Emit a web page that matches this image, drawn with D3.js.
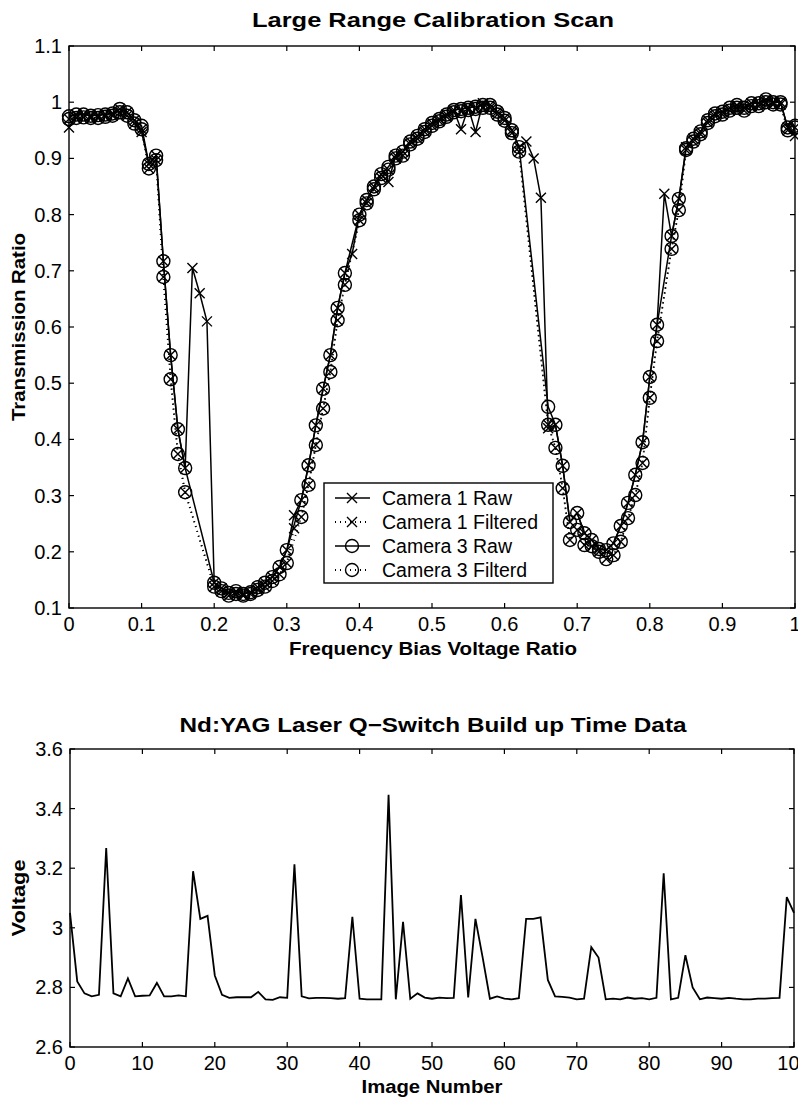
<!DOCTYPE html>
<html>
<head>
<meta charset="utf-8">
<script src="https://cdn.jsdelivr.net/npm/d3@7"></script>
<style>
  body { margin: 0; background: #fff; }
  svg text { font-family: "Liberation Sans", Arial, Helvetica, sans-serif; fill: #000; }
</style>
</head>
<body>
<div id="chart"></div>
<script>
// frequency bias voltage ratio, 0 .. 1 in 0.01 steps
var biasRatio = d3.range(101).map(function(i) { return i / 100; });

// transmission ratios (null = no sample shown for that camera/series)
var cam1Raw = [0.955,0.978,0.978,0.976,0.977,0.978,0.98,0.988,0.982,0.968,0.947,
  0.89,0.905,0.717,0.55,0.418,0.349,0.705,0.66,0.61,0.145,
  0.135,0.127,0.13,0.125,0.128,0.137,0.145,0.155,0.173,0.203,
  0.265,0.292,0.354,0.425,0.49,0.55,0.634,0.696,0.73,0.80,
  0.826,0.85,0.872,0.858,0.905,0.912,0.93,0.94,0.952,0.963,
  0.97,0.978,0.986,0.952,0.99,0.947,0.998,0.995,0.983,0.972,
  0.95,0.92,0.93,0.90,0.83,0.42,0.426,0.353,0.253,0.269,
  0.233,0.221,0.205,0.203,0.215,0.246,0.287,0.337,0.395,0.511,
  0.604,0.837,0.762,0.828,0.92,0.935,0.948,0.968,0.98,0.983,
  0.99,0.995,0.99,0.998,0.998,1.005,1.0,1.0,0.955,0.94];

var cam1Filt = [0.97,0.972,0.973,0.972,0.972,0.974,0.976,0.982,0.976,0.962,0.952,
  0.882,0.897,0.689,0.507,0.374,0.306,null,null,null,0.138,
  0.13,0.122,0.125,0.122,0.125,0.132,0.138,0.148,0.16,0.18,
  0.242,0.262,0.319,0.39,0.455,0.52,0.612,0.675,null,0.79,
  0.82,0.845,0.865,0.88,0.9,0.905,0.925,0.935,0.947,0.958,
  0.966,0.974,0.982,0.984,0.986,0.988,0.99,0.99,0.978,0.967,
  0.945,0.912,null,null,null,0.426,0.385,0.313,0.221,0.239,
  0.212,0.21,0.2,0.187,0.194,0.218,0.26,0.301,0.358,0.474,
  0.575,null,0.739,0.808,0.915,0.93,0.943,0.963,0.975,0.978,
  0.985,0.99,0.985,0.993,0.993,1.0,0.996,0.996,0.95,0.955];

var cam3Raw = [0.975,0.978,0.978,0.976,0.977,0.978,0.98,0.988,0.982,0.968,0.958,
  0.89,0.905,0.717,0.55,0.418,0.349,null,null,null,0.145,
  0.135,0.127,0.13,0.125,0.128,0.137,0.145,0.155,0.173,0.203,
  null,0.292,0.354,0.425,0.49,0.55,0.634,0.696,null,0.80,
  0.826,0.85,0.872,0.885,0.905,0.912,0.93,0.94,0.952,0.963,
  0.97,0.978,0.986,0.988,0.99,0.992,0.995,0.995,0.983,0.972,
  0.95,0.92,null,null,null,0.458,0.426,0.353,0.253,0.269,
  0.233,0.221,0.205,0.203,0.215,0.246,0.287,0.337,0.395,0.511,
  0.604,null,0.762,0.828,0.918,0.935,0.948,0.968,0.98,0.983,
  0.99,0.995,0.99,0.998,0.998,1.005,1.0,1.0,0.955,0.958];

var cam3Filt = [0.97,0.972,0.973,0.972,0.972,0.974,0.976,0.982,0.976,0.962,0.952,
  0.882,0.897,0.689,0.507,0.374,0.306,null,null,null,0.138,
  0.13,0.122,0.125,0.122,0.125,0.132,0.138,0.148,0.16,0.18,
  null,0.262,0.319,0.39,0.455,0.52,0.612,0.675,null,0.79,
  0.82,0.845,0.865,0.88,0.9,0.905,0.925,0.935,0.947,0.958,
  0.966,0.974,0.982,0.984,0.986,0.988,0.99,0.99,0.978,0.967,
  0.945,0.912,null,null,null,0.426,0.385,0.313,0.221,0.239,
  0.212,0.21,0.2,0.187,0.194,0.218,0.26,0.301,0.358,0.474,
  0.575,null,0.739,0.808,0.915,0.93,0.943,0.963,0.975,0.978,
  0.985,0.99,0.985,0.993,0.993,1.0,0.996,0.996,0.95,0.955];

// Q-switch build up time, image 0 .. 100
var imageNumber = d3.range(101);
var voltage = [3.05,2.82,2.78,2.77,2.775,3.268,2.78,2.77,2.83,2.77,
  2.772,2.773,2.815,2.77,2.77,2.773,2.77,3.19,3.03,3.04,
  2.84,2.775,2.765,2.767,2.767,2.767,2.785,2.76,2.758,2.767,
  2.765,3.213,2.77,2.763,2.765,2.765,2.764,2.762,2.764,3.037,
  2.762,2.76,2.76,2.76,3.446,2.76,3.02,2.762,2.78,2.766,
  2.762,2.766,2.764,2.765,3.11,2.766,3.03,2.9,2.762,2.77,
  2.762,2.76,2.764,3.03,3.03,3.035,2.825,2.77,2.768,2.766,
  2.76,2.762,2.935,2.90,2.76,2.762,2.76,2.766,2.762,2.764,
  2.76,2.765,3.183,2.76,2.765,2.908,2.80,2.76,2.766,2.764,
  2.762,2.765,2.762,2.76,2.76,2.762,2.762,2.764,2.765,3.103,3.05];

var topXTicks = d3.range(0, 1.0001, 0.1);
var topYTicks = d3.range(0.1, 1.1001, 0.1);
var botXTicks = d3.range(0, 101, 10);
var botYTicks = [2.6, 2.8, 3.0, 3.2, 3.4, 3.6];

var legendItems = [
  { label: "Camera 1 Raw", dash: null, marker: "x" },
  { label: "Camera 1 Filtered", dash: "1,4", marker: "x" },
  { label: "Camera 3 Raw", dash: null, marker: "o" },
  { label: "Camera 3 Filterd", dash: "1,4", marker: "o" }
];

var svg = d3.select("#chart").append("svg")
  .attr("width", 798).attr("height", 1106);

var tickFmt = function(d) { return d3.format("~g")(+d.toFixed(2)); };

// bold labels in the scan are noticeably wider than Arial bold, so stretch them
function boldText(g, txt, x, y, size, len, rotate) {
  var t = g.append("text")
    .attr("text-anchor", "middle").attr("font-size", size).attr("font-weight", "bold")
    .attr("textLength", len).attr("lengthAdjust", "spacingAndGlyphs")
    .text(txt);
  if (rotate) t.attr("transform", `translate(${x},${y}) rotate(-90)`);
  else t.attr("x", x).attr("y", y);
  return t;
}

function drawFrame(g, x, y, xt, yt, tickLen) {
  var x0 = x.range()[0], x1 = x.range()[1], y0 = y.range()[0], y1 = y.range()[1];
  var t = g.append("g").attr("stroke", "#000").attr("stroke-width", 1.2);
  xt.forEach(function(v) {
    t.append("line").attr("x1", x(v)).attr("x2", x(v)).attr("y1", y0).attr("y2", y0 - tickLen);
    t.append("line").attr("x1", x(v)).attr("x2", x(v)).attr("y1", y1).attr("y2", y1 + tickLen);
  });
  yt.forEach(function(v) {
    t.append("line").attr("x1", x0).attr("x2", x0 + tickLen).attr("y1", y(v)).attr("y2", y(v));
    t.append("line").attr("x1", x1).attr("x2", x1 - tickLen).attr("y1", y(v)).attr("y2", y(v));
  });
  g.append("rect").attr("x", x0).attr("y", y1).attr("width", x1 - x0).attr("height", y0 - y1)
    .attr("fill", "none").attr("stroke", "#000").attr("stroke-width", 1.4);

  g.selectAll(".xl").data(xt).enter().append("text")
    .attr("x", d => x(d)).attr("y", y0 + 23)
    .attr("text-anchor", "middle").attr("font-size", 20)
    .text(tickFmt);
  g.selectAll(".yl").data(yt).enter().append("text")
    .attr("x", x0 - 7).attr("y", d => y(d) + 7)
    .attr("text-anchor", "end").attr("font-size", 20)
    .text(tickFmt);
}

function xMarker(sel, s) {
  sel.append("path").attr("d", `M${-s},${-s}L${s},${s}M${-s},${s}L${s},${-s}`)
    .attr("stroke", "#000").attr("stroke-width", 1.4).attr("fill", "none");
}
function oMarker(sel, r) {
  sel.append("circle").attr("r", r)
    .attr("stroke", "#000").attr("stroke-width", 1.4).attr("fill", "none");
}

// ---------- top panel ----------
var xT = d3.scaleLinear().domain([0, 1]).range([69, 795]);
var yT = d3.scaleLinear().domain([0.1, 1.1]).range([608, 46]);
var topG = svg.append("g");

var seriesTop = [
  { vals: cam3Filt, dash: "1,4", marker: "o" },
  { vals: cam3Raw, dash: null, marker: "o" },
  { vals: cam1Filt, dash: "1,4", marker: "x" },
  { vals: cam1Raw, dash: null, marker: "x" }
];

var lineT = d3.line().x(d => xT(d[0])).y(d => yT(d[1]));

seriesTop.forEach(function(s) {
  var pts = biasRatio.map((b, i) => [b, s.vals[i]]).filter(p => p[1] !== null);
  topG.append("path").datum(pts)
    .attr("d", lineT)
    .attr("fill", "none").attr("stroke", "#000")
    .attr("stroke-width", s.dash ? 1.8 : 1.5)
    .attr("stroke-dasharray", s.dash);
  var m = topG.append("g").selectAll("g").data(pts).enter().append("g")
    .attr("transform", d => `translate(${xT(d[0])},${yT(d[1])})`);
  if (s.marker === "x") xMarker(m, 5); else oMarker(m, 6.5);
});

drawFrame(topG, xT, yT, topXTicks, topYTicks, 5);

boldText(topG, "Large Range Calibration Scan", 433, 27, 21, 362);
boldText(topG, "Frequency Bias Voltage Ratio", 433, 655, 18, 288);
boldText(topG, "Transmission Ratio", 25, 327, 18, 188, true);

// legend
var leg = topG.append("g");
leg.append("rect").attr("x", 324).attr("y", 483).attr("width", 229).attr("height", 100)
  .attr("fill", "#fff").attr("stroke", "#000").attr("stroke-width", 1.4);
var rowY = d3.scalePoint().domain(legendItems.map(d => d.label)).range([498, 570]);
legendItems.forEach(function(it) {
  var yy = rowY(it.label);
  leg.append("line").attr("x1", 335).attr("x2", 370).attr("y1", yy).attr("y2", yy)
    .attr("stroke", "#000").attr("stroke-width", it.dash ? 1.8 : 1.5)
    .attr("stroke-dasharray", it.dash);
  var mg = leg.append("g").attr("transform", `translate(352,${yy})`);
  if (it.marker === "x") xMarker(mg, 5); else oMarker(mg, 6.5);
  leg.append("text").attr("x", 382).attr("y", yy + 7).attr("font-size", 19.5).text(it.label);
});

// ---------- bottom panel ----------
var xB = d3.scaleLinear().domain([0, 100]).range([70, 794]);
var yB = d3.scaleLinear().domain([2.6, 3.6]).range([1047, 749]);
var botG = svg.append("g");

botG.append("path").datum(imageNumber.map((n, i) => [n, voltage[i]]))
  .attr("d", d3.line().x(d => xB(d[0])).y(d => yB(d[1])))
  .attr("fill", "none").attr("stroke", "#000").attr("stroke-width", 1.8);

drawFrame(botG, xB, yB, botXTicks, botYTicks, 5);

boldText(botG, "Nd:YAG Laser Q\u2212Switch Build up Time Data", 433, 732, 21, 507);
boldText(botG, "Image Number", 432, 1093, 18, 141);
boldText(botG, "Voltage", 25, 898, 18, 77, true);
</script>
</body>
</html>
